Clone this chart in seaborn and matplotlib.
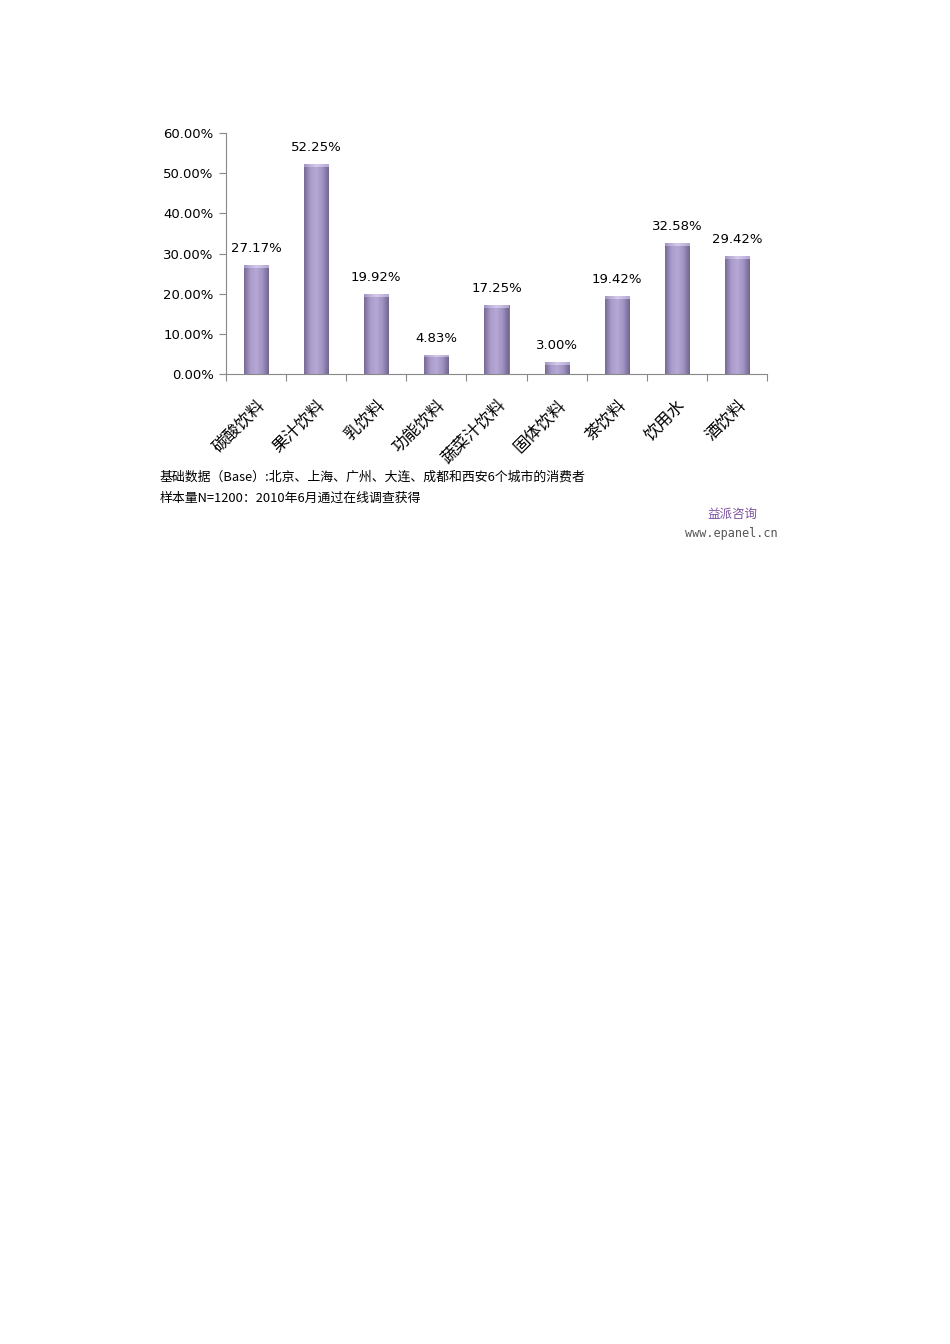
import numpy as np
import matplotlib
matplotlib.use('Agg')
import matplotlib.pyplot as plt
import seaborn as sns
from matplotlib.colors import LinearSegmentedColormap

# data
categories = ['碳酸饮料', '果汁饮料', '乳饮料', '功能饮料', '蔬菜汁饮料',
              '固体饮料', '茶饮料', '饮用水', '酒饮料']
values = [27.17, 52.25, 19.92, 4.83, 17.25, 3.00, 19.42, 32.58, 29.42]
y_ticks = [0, 10, 20, 30, 40, 50, 60]

note_lines = ['基础数据（Base）:北京、上海、广州、大连、成都和西安6个城市的消费者',
              '样本量N=1200：2010年6月通过在线调查获得']

sns.set_theme(style='white')
plt.rcParams['font.family'] = ['Noto Sans CJK SC', 'DejaVu Sans']
plt.rcParams['text.color'] = 'black'
plt.rcParams['xtick.color'] = 'black'
plt.rcParams['ytick.color'] = 'black'

fig = plt.figure(figsize=(9.5, 13.44), dpi=100)
ax = fig.add_axes([0.2379, 0.7217, 0.5695, 0.1793])

sns.barplot(x=categories, y=values, ax=ax, width=0.4, color='#a293c4',
            saturation=1, edgecolor='#75688f', linewidth=0.6)

# horizontal gradient inside each bar to look like the cylinder style
grad = LinearSegmentedColormap.from_list(
    'bar', ['#776a96', '#aa9bcb', '#b6a9d5', '#a092c2', '#72658f'])
capmap = LinearSegmentedColormap.from_list(
    'cap', ['#b0a2d0', '#ddd3f0', '#c2b6e0'])
g = np.linspace(0, 1, 64).reshape(1, -1)
for p in ax.patches:
    x0, y0 = p.get_x(), p.get_y()
    w, h = p.get_width(), p.get_height()
    im = ax.imshow(g, cmap=grad, aspect='auto',
                   extent=[x0, x0 + w, y0, y0 + h], zorder=p.get_zorder() + 0.1)
    im.set_clip_path(p)
    # soft light cap at the top
    cap = ax.imshow(np.linspace(0, 1, 32).reshape(1, -1), cmap=capmap,
                    aspect='auto', extent=[x0, x0 + w, y0 + h - 0.7, y0 + h],
                    zorder=p.get_zorder() + 0.2, alpha=0.8)
    cap.set_clip_path(p)

ax.set_xlim(-0.5, len(categories) - 0.5)
ax.set_ylim(0, 60)
ax.set_yticks(y_ticks)
ax.set_yticklabels([f'{t:.2f}%' for t in y_ticks], fontsize=9.5,
                   family=['DejaVu Sans'])

ax.set_xticks(range(len(categories)))
ax.set_xticklabels(categories, rotation=45, ha='right',
                   rotation_mode='anchor', fontsize=12)
ax.set_xticks(np.arange(-0.5, len(categories), 1), minor=True)
ax.tick_params(axis='x', which='major', length=0, pad=16)
ax.tick_params(axis='x', which='minor', length=5, width=0.8, color='#888888',
               direction='out', bottom=True)
ax.tick_params(axis='y', length=5, width=0.8, color='#888888',
               direction='out', left=True, pad=4)

ax.bar_label(ax.containers[0], labels=[f'{v:.2f}%' for v in values],
             padding=7, fontsize=9.5, family=['DejaVu Sans'], color='black')

sns.despine(ax=ax)
for s in ['left', 'bottom']:
    ax.spines[s].set_color('#888888')
    ax.spines[s].set_linewidth(0.8)
ax.set_xlabel('')
ax.set_ylabel('')

# footnotes
fig.text(160 / 950, 1 - 477 / 1344, note_lines[0], fontsize=9.3,
         va='center', ha='left', fontweight='medium')
fig.text(160 / 950, 1 - 498 / 1344, note_lines[1], fontsize=9.3,
         va='center', ha='left', fontweight='medium')
fig.text(757 / 950, 1 - 514 / 1344, '益派咨询', fontsize=9,
         va='center', ha='right', color='#7b4f9d')
fig.text(778 / 950, 1 - 534 / 1344, 'www.epanel.cn', fontsize=8.5,
         va='center', ha='right', color='#555555', family=['DejaVu Sans Mono'])

fig.savefig('out.png', dpi=100)
